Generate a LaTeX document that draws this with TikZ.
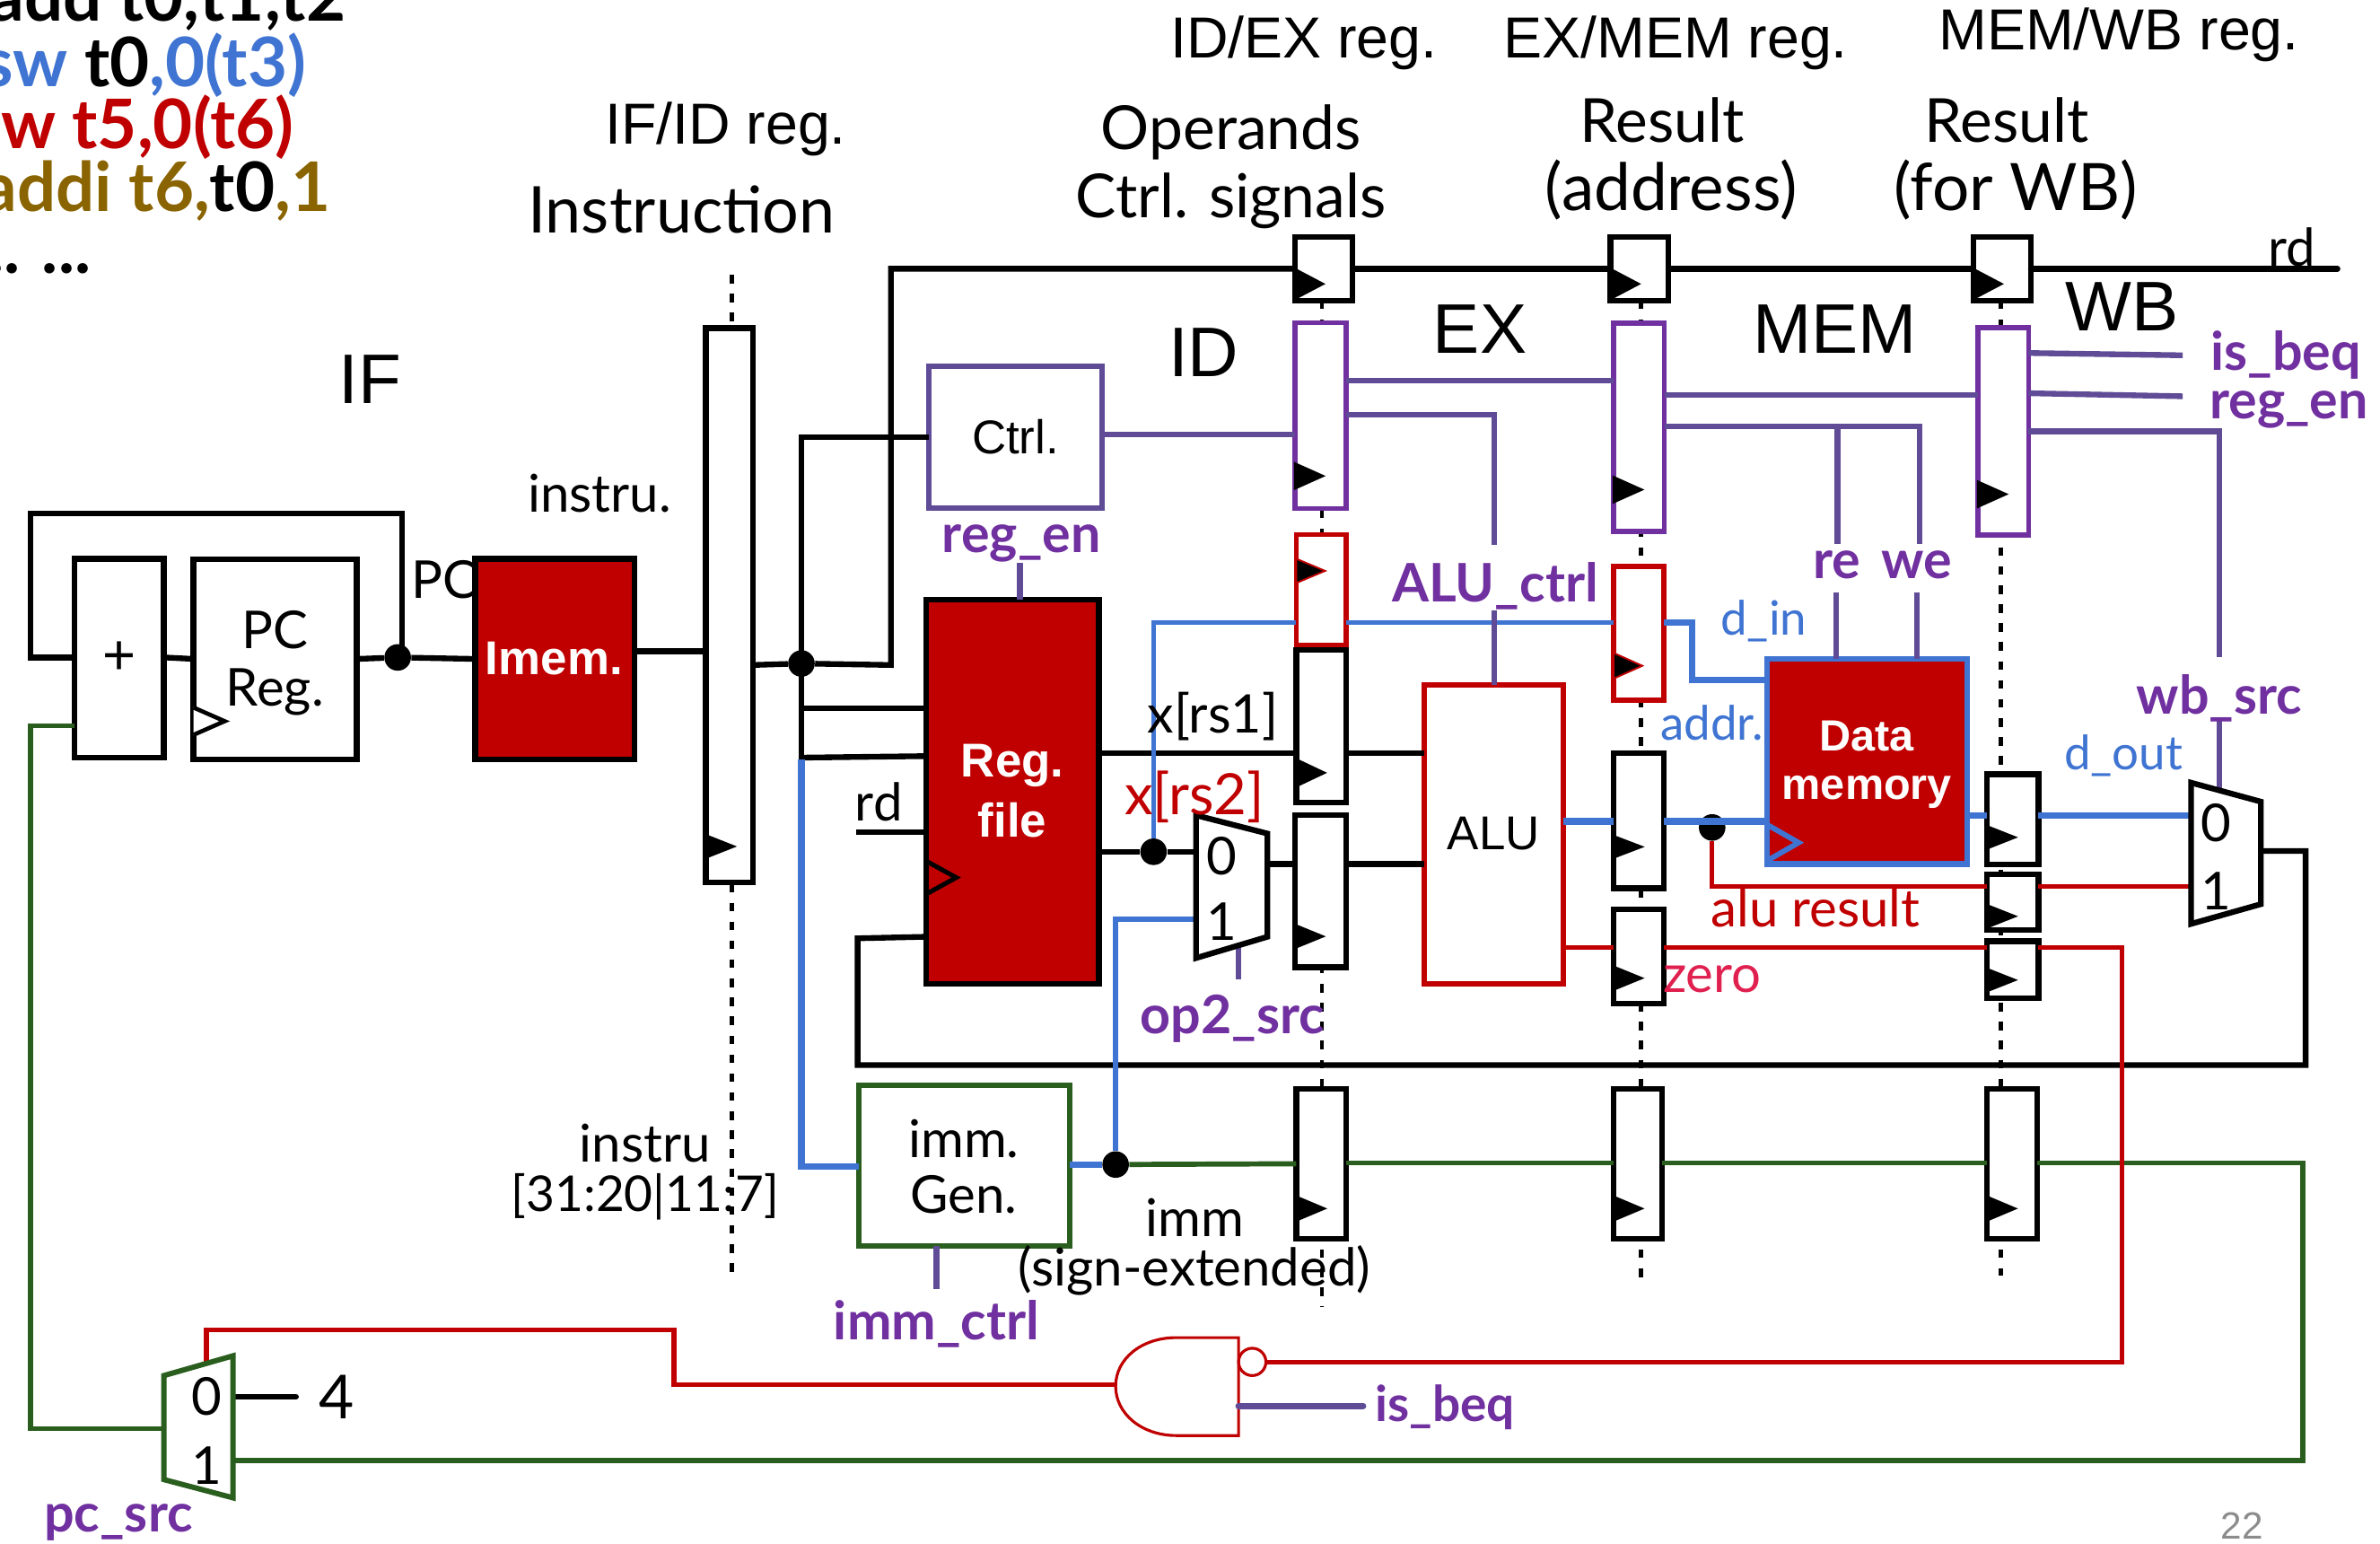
\documentclass[tikz,border=0pt]{standalone}
\usepackage{fontspec}
\setmainfont{Liberation Sans}
\newfontfamily\cmc{Lato}
\definecolor{dred}{HTML}{C00000}
\definecolor{dblue}{HTML}{3F74D2}
\definecolor{lpur}{HTML}{5F4B96}
\definecolor{tpur}{HTML}{7030A0}
\definecolor{bpur}{HTML}{7030A0}
\definecolor{dgreen}{HTML}{2A5E1E}
\definecolor{brn}{HTML}{8A6400}
\definecolor{crim}{HTML}{E0204F}
\newcommand{\fsz}[1]{\fontsize{#1}{#1}\selectfont}
\newcommand{\mybox}[7]{%
 \pgfmathsetmacro\myw{(#5-#3)*0.8}\pgfmathsetmacro\myh{(#6-#4)*0.8}%
 \node[#1,minimum width=\myw pt,minimum height=\myh pt] (#2) at ({(#3+#5)/2},{(#4+#6)/2}) {#7};}
\newcommand{\myclk}[4][black]{%
 \filldraw[black,draw=#1,line width=0.9pt,line join=miter] (#2.west |- 0,#3) -- ++(19,{(#4-#3)/2}) -- (#2.west |- 0,#4) -- cycle;}
\tikzset{
 boxbase/.style={rectangle,inner sep=0pt,outer sep=0pt,fill=white},
 blkbox/.style={boxbase,draw=black,line width=3pt},
 purbox/.style={boxbase,draw=bpur,line width=2.7pt},
 redbox/.style={boxbase,draw=dred,line width=2.7pt},
 grnbox/.style={boxbase,draw=dgreen,line width=2.8pt},
 ctrlbox/.style={boxbase,draw=lpur,line width=2.8pt},
 blk/.style={draw=black,line width=3pt,line join=miter},
 blu/.style={draw=dblue,line width=2.6pt},
 bluth/.style={draw=dblue,line width=3.4pt},
 pur/.style={draw=lpur,line width=3pt},
 rd/.style={draw=dred,line width=2.5pt},
 grn/.style={draw=dgreen,line width=2.7pt},
 dsh/.style={draw=black,line width=2.2pt,dash pattern=on 4.5pt off 5.5pt},
 dotn/.style={circle,fill=black,inner sep=0pt,minimum size=14pt},
 ttl/.style={inner sep=0pt,font=\fsz{30.5}},
 stg/.style={inner sep=0pt,font=\fsz{37}},
 hand/.style={inner sep=0pt,font=\cmc\fsz{32}},
 lab/.style={inner sep=0pt,font=\cmc\fsz{27.5}},
 sig/.style={inner sep=0pt,text=tpur,font=\cmc\bfseries\fsz{28}},
 bsig/.style={inner sep=0pt,text=dblue,font=\cmc\fsz{25}},
 wht/.style={inner sep=0pt,text=white,font=\bfseries\fsz{25}},
 arl/.style={inner sep=0pt,font=\fsz{25}},
 code/.style={inner sep=0pt,font=\cmc\bfseries\fsz{36},anchor=base east},
}
\begin{document}
\begin{tikzpicture}[x=0.8pt,y=-0.8pt]
\useasboundingbox (0,0) rectangle (1568,1016.4);
\clip (0,0) rectangle (1568,1016.4);
\fill[white] (0,0) rectangle (1568,1016.4);

% dashed pipeline boundaries
\path[dsh] (482,181) -- (482,215) (482,582) -- (482,843);
\path[dsh] (871,198) -- (871,861);
\path[dsh] (1081,198) -- (1081,846);
\path[dsh] (1318,198) -- (1318,840);

% nodes
\mybox{blkbox}{adder}{49}{368}{108}{499}{\fsz{30}+}
\mybox{blkbox}{pcreg}{127.5}{368.5}{235}{500}{}
\mybox{blkbox,fill=dred}{imem}{313}{368}{418}{500}{}
\mybox{blkbox}{ifid}{465}{216}{496}{581}{}
\mybox{ctrlbox}{ctrl}{612}{241}{726}{334.5}{\fsz{25}Ctrl.}
\mybox{blkbox,fill=dred}{regf}{610}{395}{724}{648}{}
\mybox{grnbox}{immg}{566}{715}{704.5}{820.5}{}
\mybox{redbox}{alu}{938.5}{451}{1030}{648}{}
\mybox{boxbase,draw=dblue,line width=3pt,fill=dred}{dmem}{1164}{434}{1296}{569}{}

\mybox{blkbox}{rA}{853}{156}{891}{198}{}
\mybox{purbox}{cA}{853}{212.5}{887}{335}{}
\mybox{redbox}{sA}{854}{352}{887}{425}{}
\mybox{blkbox}{oA}{854}{428}{887}{528.5}{}
\mybox{blkbox}{pA}{853}{537}{887}{637}{}
\mybox{blkbox}{iA}{854}{717}{887}{816}{}

\mybox{blkbox}{rB}{1061}{156}{1099}{198}{}
\mybox{purbox}{cB}{1063}{213}{1096.5}{350}{}
\mybox{redbox}{sB}{1063}{373}{1096}{461}{}
\mybox{blkbox}{oB}{1063}{496}{1096}{585}{}
\mybox{blkbox}{zB}{1063}{599}{1096}{661}{}
\mybox{blkbox}{iB}{1063}{717}{1095}{816}{}

\mybox{blkbox}{rC}{1300}{156}{1338}{198}{}
\mybox{purbox}{cC}{1303}{216}{1336.5}{352.5}{}
\mybox{blkbox}{oC}{1309}{510}{1343}{569.5}{}
\mybox{blkbox}{aC}{1309}{576}{1343}{612.5}{}
\mybox{blkbox}{zC}{1309}{620}{1343}{657.5}{}
\mybox{blkbox}{iC}{1309}{717}{1342}{816}{}

% mux corner coordinates
\coordinate (opTL) at (788,537); \coordinate (opBL) at (788,631); \coordinate (opTR) at (835,549); \coordinate (opBR) at (835,617);
\coordinate (wbTL) at (1443.5,515.5); \coordinate (wbBL) at (1443.5,608.5); \coordinate (wbTR) at (1489.5,528); \coordinate (wbBR) at (1489.5,595.5);
\coordinate (pcTL) at (108,906); \coordinate (pcBL) at (108,974.5); \coordinate (pcTR) at (153.5,893); \coordinate (pcBR) at (153.5,986.5);
\node[dotn] (dPC) at (262,433) {};
\node[dotn] (dIn) at (528,437) {};
\node[dotn] (dRs) at (760,561) {};
\node[dotn] (dIm) at (735,767) {};
\node[dotn] (dAl) at (1128,545) {};
\coordinate (rdin) at (564,548);
\coordinate (rdend) at (1540,177);
\coordinate (fourend) at (195,920);
\coordinate (begend) at (898,926);
\coordinate (andL) at (735,912);
\coordinate (bubR) at (835,897);

% connectors: black
\draw[blk] (adder.west |- 0,433) -- (20,433) -- (20,338) -- (265,338) -- (265,433);
\draw[blk] (adder.east |- 0,433) -- (pcreg.west |- 0,434);
\draw[blk] (pcreg.east |- 0,434) -- (dPC) -- (imem.west |- 0,434);
\draw[blk] (imem.east |- 0,429) -- (ifid.west |- 0,429);
\draw[blk] (ifid.east |- 0,438) -- (dIn) -- (587,438) -- (587,177) -- (rA.west |- 0,177);
\draw[blk] (rA.east |- 0,177) -- (rB.west |- 0,177);
\draw[blk] (rB.east |- 0,177) -- (rC.west |- 0,177);
\draw[blk,line cap=round] (rC.east |- 0,177) -- (rdend);
\draw[blk] (ctrl.west |- 0,288) -- (528,288) -- (528,500);
\draw[blk] (528,466.5) -- (regf.west |- 0,466.5);
\draw[blk] (528,499) -- (regf.west |- 0,498);
\draw[blk] (rdin) -- (regf.west |- 0,548);
\draw[blk] (regf.west |- 0,617) -- (565,618) -- (565,701.5) -- (1519,701.5) -- (1519,560.5) -- (wbTR |- 0,560.5);
\draw[blk] (regf.east |- 0,496) -- (oA.west |- 0,496);
\draw[blk] (oA.east |- 0,496) -- (alu.west |- 0,496);
\draw[blk] (regf.east |- 0,561) -- (dRs) -- (opTL |- 0,561);
\draw[blk] (opTR |- 0,569) -- (pA.west |- 0,569);
\draw[blk] (pA.east |- 0,569) -- (alu.west |- 0,569);
\draw[blk,line cap=round] (pcTR |- 0,920) -- (fourend);
% blue
\draw[bluth] (528,500) -- (528,768.5) -- (immg.west |- 0,768.5);
\draw[blu] (dRs) -- (760,410) -- (sA.west |- 0,410);
\draw[blu] (sA.east |- 0,410) -- (sB.west |- 0,410);
\draw[bluth] (sB.east |- 0,410) -- (1115,410) -- (1115,448) -- (dmem.west |- 0,448);
\draw[bluth] (immg.east |- 0,767) -- (dIm);
\draw[blu] (dIm) -- (735,605.5) -- (opTL |- 0,605.5);
\draw[bluth] (alu.east |- 0,541) -- (oB.west |- 0,541);
\draw[bluth] (oB.east |- 0,541) -- (dmem.west |- 0,541);
\draw[bluth] (dmem.east |- 0,537) -- (oC.west |- 0,537);
\draw[bluth] (oC.east |- 0,537) -- (wbTL |- 0,537);
% green
\draw[grn] (dIm) -- (iA.west |- 0,766.5);
\draw[grn] (iA.east |- 0,766) -- (iB.west |- 0,766);
\draw[grn] (iB.east |- 0,766) -- (iC.west |- 0,766);
\draw[grn] (iC.east |- 0,766) -- (1517,766) -- (1517,962) -- (pcBR |- 0,962);
\draw[grn] (pcTL |- 0,941) -- (20,941) -- (20,478) -- (adder.west |- 0,478);
% red
\draw[rd] (136,900) -- (136,876) -- (444,876) -- (444,912) -- (andL);
\draw[rd] (bubR) -- (1398,897) -- (1398,624) -- (zC.east |- 0,624);
\draw[rd] (zC.west |- 0,624) -- (zB.east |- 0,624);
\draw[rd] (zB.west |- 0,624) -- (alu.east |- 0,624);
\draw[rd] (dAl) -- (1128,584) -- (aC.west |- 0,584);
\draw[rd] (aC.east |- 0,584) -- (wbTL |- 0,584);
% purple
\draw[pur] (ctrl.east |- 0,286) -- (cA.west |- 0,286);
\draw[pur] (cA.east |- 0,250.5) -- (cB.west |- 0,250.5);
\draw[pur] (cA.east |- 0,273) -- (984.5,273) -- (984.5,359);
\draw[pur] (984.5,402) -- (alu.north -| 984.5,0);
\draw[pur] (cB.east |- 0,260) -- (cC.west |- 0,260);
\draw[pur] (cB.east |- 0,281) -- (1264.5,281) -- (1264.5,358);
\draw[pur] (1210.5,281) -- (1210.5,358);
\draw[pur] (1209.5,390) -- (dmem.north -| 1209.5,0);
\draw[pur] (1263,390) -- (dmem.north -| 1263,0);
\draw[pur] (cC.east |- 0,232.5) -- (1438,234);
\draw[pur] (cC.east |- 0,259) -- (1438,261);
\draw[pur] (cC.east |- 0,284) -- (1462,284) -- (1462,433);
\draw[pur] (1462,475) -- (1462,520);
\draw[pur] (regf.north -| 672,0) -- (672,371);
\draw[pur] (816,620) -- (816,645);
\draw[pur] (immg.south -| 617,0) -- (617,849);

% muxes
\draw[blk,fill=white,line join=miter] (opTL) -- (opTR) -- (opBR) -- (opBL) -- cycle;
\draw[blk,fill=white,line join=miter] (wbTL) -- (wbTR) -- (wbBR) -- (wbBL) -- cycle;
\draw[draw=dgreen,line width=2.8pt,fill=white,line join=miter] (pcTL) -- (pcTR) -- (pcBR) -- (pcBL) -- cycle;
% AND gate
\draw[draw=dred,line width=1.5pt,fill=white] (816,881) -- (775,881) .. controls (752,881) and (735,895) .. (735,913) .. controls (735,931) and (752,945.5) .. (775,945.5) -- (816,945.5) -- cycle;
\node[circle,draw=dred,line width=1.5pt,fill=white,inner sep=0pt,minimum size=14.4pt] (bub) at (825,897) {};
\draw[draw=lpur,line width=3.4pt,line cap=round] (816,926) -- (begend);

% clock triangles
\myclk{ifid}{550}{565}
\myclk{rA}{177}{197}\myclk{rB}{177}{197}\myclk{rC}{177}{197}
\myclk{cA}{305}{322}\myclk{cB}{314}{331}\myclk{cC}{317}{334}
\myclk[dred]{sA}{368}{384}\myclk[dred]{sB}{430}{447}
\myclk{oA}{500}{518}\myclk{pA}{609}{624.5}
\myclk{oB}{550.5}{565}\myclk{zB}{636.5}{652}
\myclk{oC}{544}{559}\myclk{aC}{596}{611}\myclk{zC}{638}{653}
\myclk{iA}{788}{804}\myclk{iB}{788}{804}\myclk{iC}{788}{804}
\draw[black,line width=2.2pt,fill=white,line join=miter] (pcreg.west |- 0,466) -- (148,475) -- (pcreg.west |- 0,484);
\draw[black,line width=2.4pt,line join=miter] (regf.west |- 0,567) -- (630,578) -- (regf.west |- 0,589);
\draw[dblue,line width=2.8pt,line join=miter] (dmem.west |- 0,543) -- (1185,555) -- (dmem.west |- 0,567);

% text: code
\node[code] (c1) at (228,14) {add t0,t1,t2};
\node[code,text=dblue] (c2) at (202,57) {sw \textcolor{black}{t0},0(t3)};
\node[code,text=dred] (c3) at (194,98) {lw t5,0(t6)};
\node[code,text=brn] (c4) at (218,139) {addi t6,\textcolor{black}{t0},1};
\node[code] (c5) at (60,180) {... ...};

% titles
\node[ttl] (t1) at (478,85) {IF/ID reg.};
\node[ttl] (t2) at (859,28) {ID/EX reg.};
\node[ttl] (t3) at (1104,28) {EX/MEM reg.};
\node[ttl] (t4) at (1396,23) {MEM/WB reg.};
\node[hand,font=\cmc\fsz{34}] (h1) at (449,138) {Instruction};
\node[hand] (h2) at (811,87) {Operands};
\node[hand] (h3) at (811,132) {Ctrl. signals};
\node[hand] (h4) at (1095,79) {Result};
\node[hand,font=\cmc\fsz{34.5}] (h5) at (1101,125) {(address)};
\node[hand] (h6) at (1322,79) {Result};
\node[hand,font=\cmc\fsz{34.5}] (h7) at (1328,125) {(for WB)};
\node[stg] (s1) at (244,250) {IF};
\node[stg] (s2) at (793,232) {ID};
\node[stg] (s3) at (975,217) {EX};
\node[stg] (s4) at (1209,217) {MEM};
\node[stg] (s5) at (1398,202) {WB};

% labels
\node[lab] (l1) at (395,325) {instru.};
\node[lab] (l2) at (293,382) {PC};
\node[lab] (l3) at (181,415) {PC};
\node[lab] (l4) at (181,456) {Reg.};
\node[wht] (l5) at (365,434) {Imem.};
\node[wht] (l6) at (667,504) {Reg.};
\node[wht] (l7) at (667,540) {file};
\node[wht,font=\bfseries\fsz{23}] (l8) at (1230,485) {Data};
\node[wht,font=\bfseries\fsz{23}] (l9) at (1230,522) {memory};
\node[arl] (l10) at (984,549) {ALU};
\node[lab] (l11) at (635,750) {imm.};
\node[lab] (l12) at (635,787) {Gen.};
\node[lab] (l13) at (425,753) {instru};
\node[lab,font=\cmc\fsz{26}] (l14) at (425,788) {[31:20|11:7]};
\node[lab] (l15) at (787,802) {imm};
\node[lab] (l16) at (787,837) {(sign-extended)};
\node[lab] (l17) at (1510,163) {rd};
\node[lab] (l18) at (579,528) {rd};
\node[lab,font=\cmc\fsz{28}] (l19) at (799,472) {x[rs1]};
\node[lab,text=dred,font=\cmc\fsz{30}] (l20) at (787,525) {x[rs2]};
\node[lab] (l21) at (805,564) {0};
\node[lab] (l22) at (805,607) {1};
\node[lab] (l23) at (1460,542) {0};
\node[lab] (l24) at (1460,587) {1};
\node[lab] (l25) at (136,920) {0};
\node[lab] (l26) at (136,965) {1};
\node[hand] (l27) at (222,920) {4};
\node[lab,text=dred] (l28) at (1196,598) {alu result};
\node[lab,text=crim] (l29) at (1128,645) {zero};
\node[bsig] (l30) at (1162,409) {d\_in};
\node[bsig] (l31) at (1128,476) {addr.};
\node[bsig] (l32) at (1399,498) {d\_out};
\node[sig] (p1) at (673,358) {reg\_en};
\node[sig] (p2) at (985,386) {ALU\_ctrl};
\node[sig] (p3) at (1210,372) {re};
\node[sig] (p4) at (1263,372) {we};
\node[sig] (p5) at (1506,234) {is\_beq};
\node[sig] (p6) at (1508,270) {reg\_en};
\node[sig] (p7) at (1462,460) {wb\_src};
\node[sig] (p8) at (812,671) {op2\_src};
\node[sig] (p9) at (617,872) {imm\_ctrl};
\node[sig,font=\cmc\bfseries\fsz{26}] (p10) at (952,927) {is\_beq};
\node[sig] (p11) at (78,1003) {pc\_src};
\node[inner sep=0pt,text=black!45,font=\fsz{20}] (pg) at (1477,1005) {22};
\end{tikzpicture}
\end{document}
